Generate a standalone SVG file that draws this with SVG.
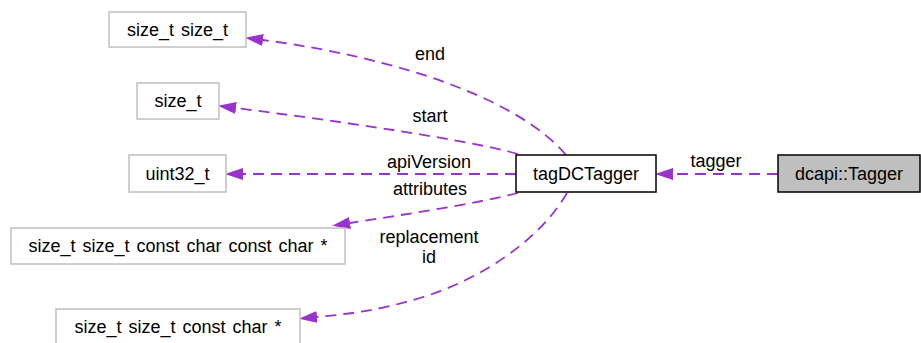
<svg xmlns="http://www.w3.org/2000/svg" width="921" height="343" viewBox="0 0 921 343">
<style>
text{font-family:"Liberation Sans",Arial,sans-serif;font-size:18px;fill:#000;text-anchor:middle}
.w{word-spacing:2px}
.g{fill:#fff;stroke:#bfbfbf;stroke-width:1.5}
.b{fill:#fff;stroke:#000;stroke-width:1.5}
.s{fill:#bfbfbf;stroke:#000;stroke-width:1.5}
.e{fill:none;stroke:#9a32cd;stroke-width:1.8;stroke-dasharray:11,7}
</style>
<defs>
<marker id="ah" markerUnits="userSpaceOnUse" markerWidth="18" markerHeight="12" viewBox="0 0 18 12" refX="0" refY="6" orient="auto">
<path d="M0,0 L18,6 L0,12 z" fill="#9a32cd"/>
</marker>
</defs>
<g id="edges">
<path class="e" d="M778,174 L673,174" marker-end="url(#ah)"/>
<text x="716" y="167">tagger</text>
<path class="e" d="M566,155 C520,100 400,58 263,40" marker-end="url(#ah)"/>
<text x="430" y="60">end</text>
<path class="e" d="M518,154 C470,140 330,120 236,108" marker-end="url(#ah)"/>
<text x="430" y="122">start</text>
<path class="e" d="M516,174 L243,174" marker-end="url(#ah)"/>
<text x="429" y="168">apiVersion</text>
<path class="e" d="M518,193 C470,205 400,215 350,223" marker-end="url(#ah)"/>
<text x="430" y="195">attributes</text>
<path class="e" d="M567,193 C540,240 480,280 420,298 C380,310 350,314 317,317" marker-end="url(#ah)"/>
<text x="429" y="243">replacement</text>
<text x="429" y="263">id</text>
</g>
<g id="n_tagger"><rect class="s" x="778" y="155" width="142" height="37"/><text x="849" y="180">dcapi::Tagger</text></g>
<g id="n_tagDCTagger"><rect class="b" x="516" y="155" width="140" height="37"/><text x="586" y="180">tagDCTagger</text></g>
<g id="n_sizet2"><rect class="g" x="109" y="12" width="137" height="35"/><text class="w" x="177.5" y="36">size_t size_t</text></g>
<g id="n_sizet"><rect class="g" x="137" y="83" width="82" height="36"/><text x="178" y="107">size_t</text></g>
<g id="n_uint32"><rect class="g" x="129" y="155" width="97" height="37"/><text x="177.5" y="180">uint32_t</text></g>
<g id="n_attr"><rect class="g" x="11" y="228" width="334" height="36"/><text class="w" x="178" y="252">size_t size_t const char const char *</text></g>
<g id="n_repl"><rect class="g" x="56" y="309" width="244" height="36"/><text class="w" x="178" y="333">size_t size_t const char *</text></g>
</svg>
